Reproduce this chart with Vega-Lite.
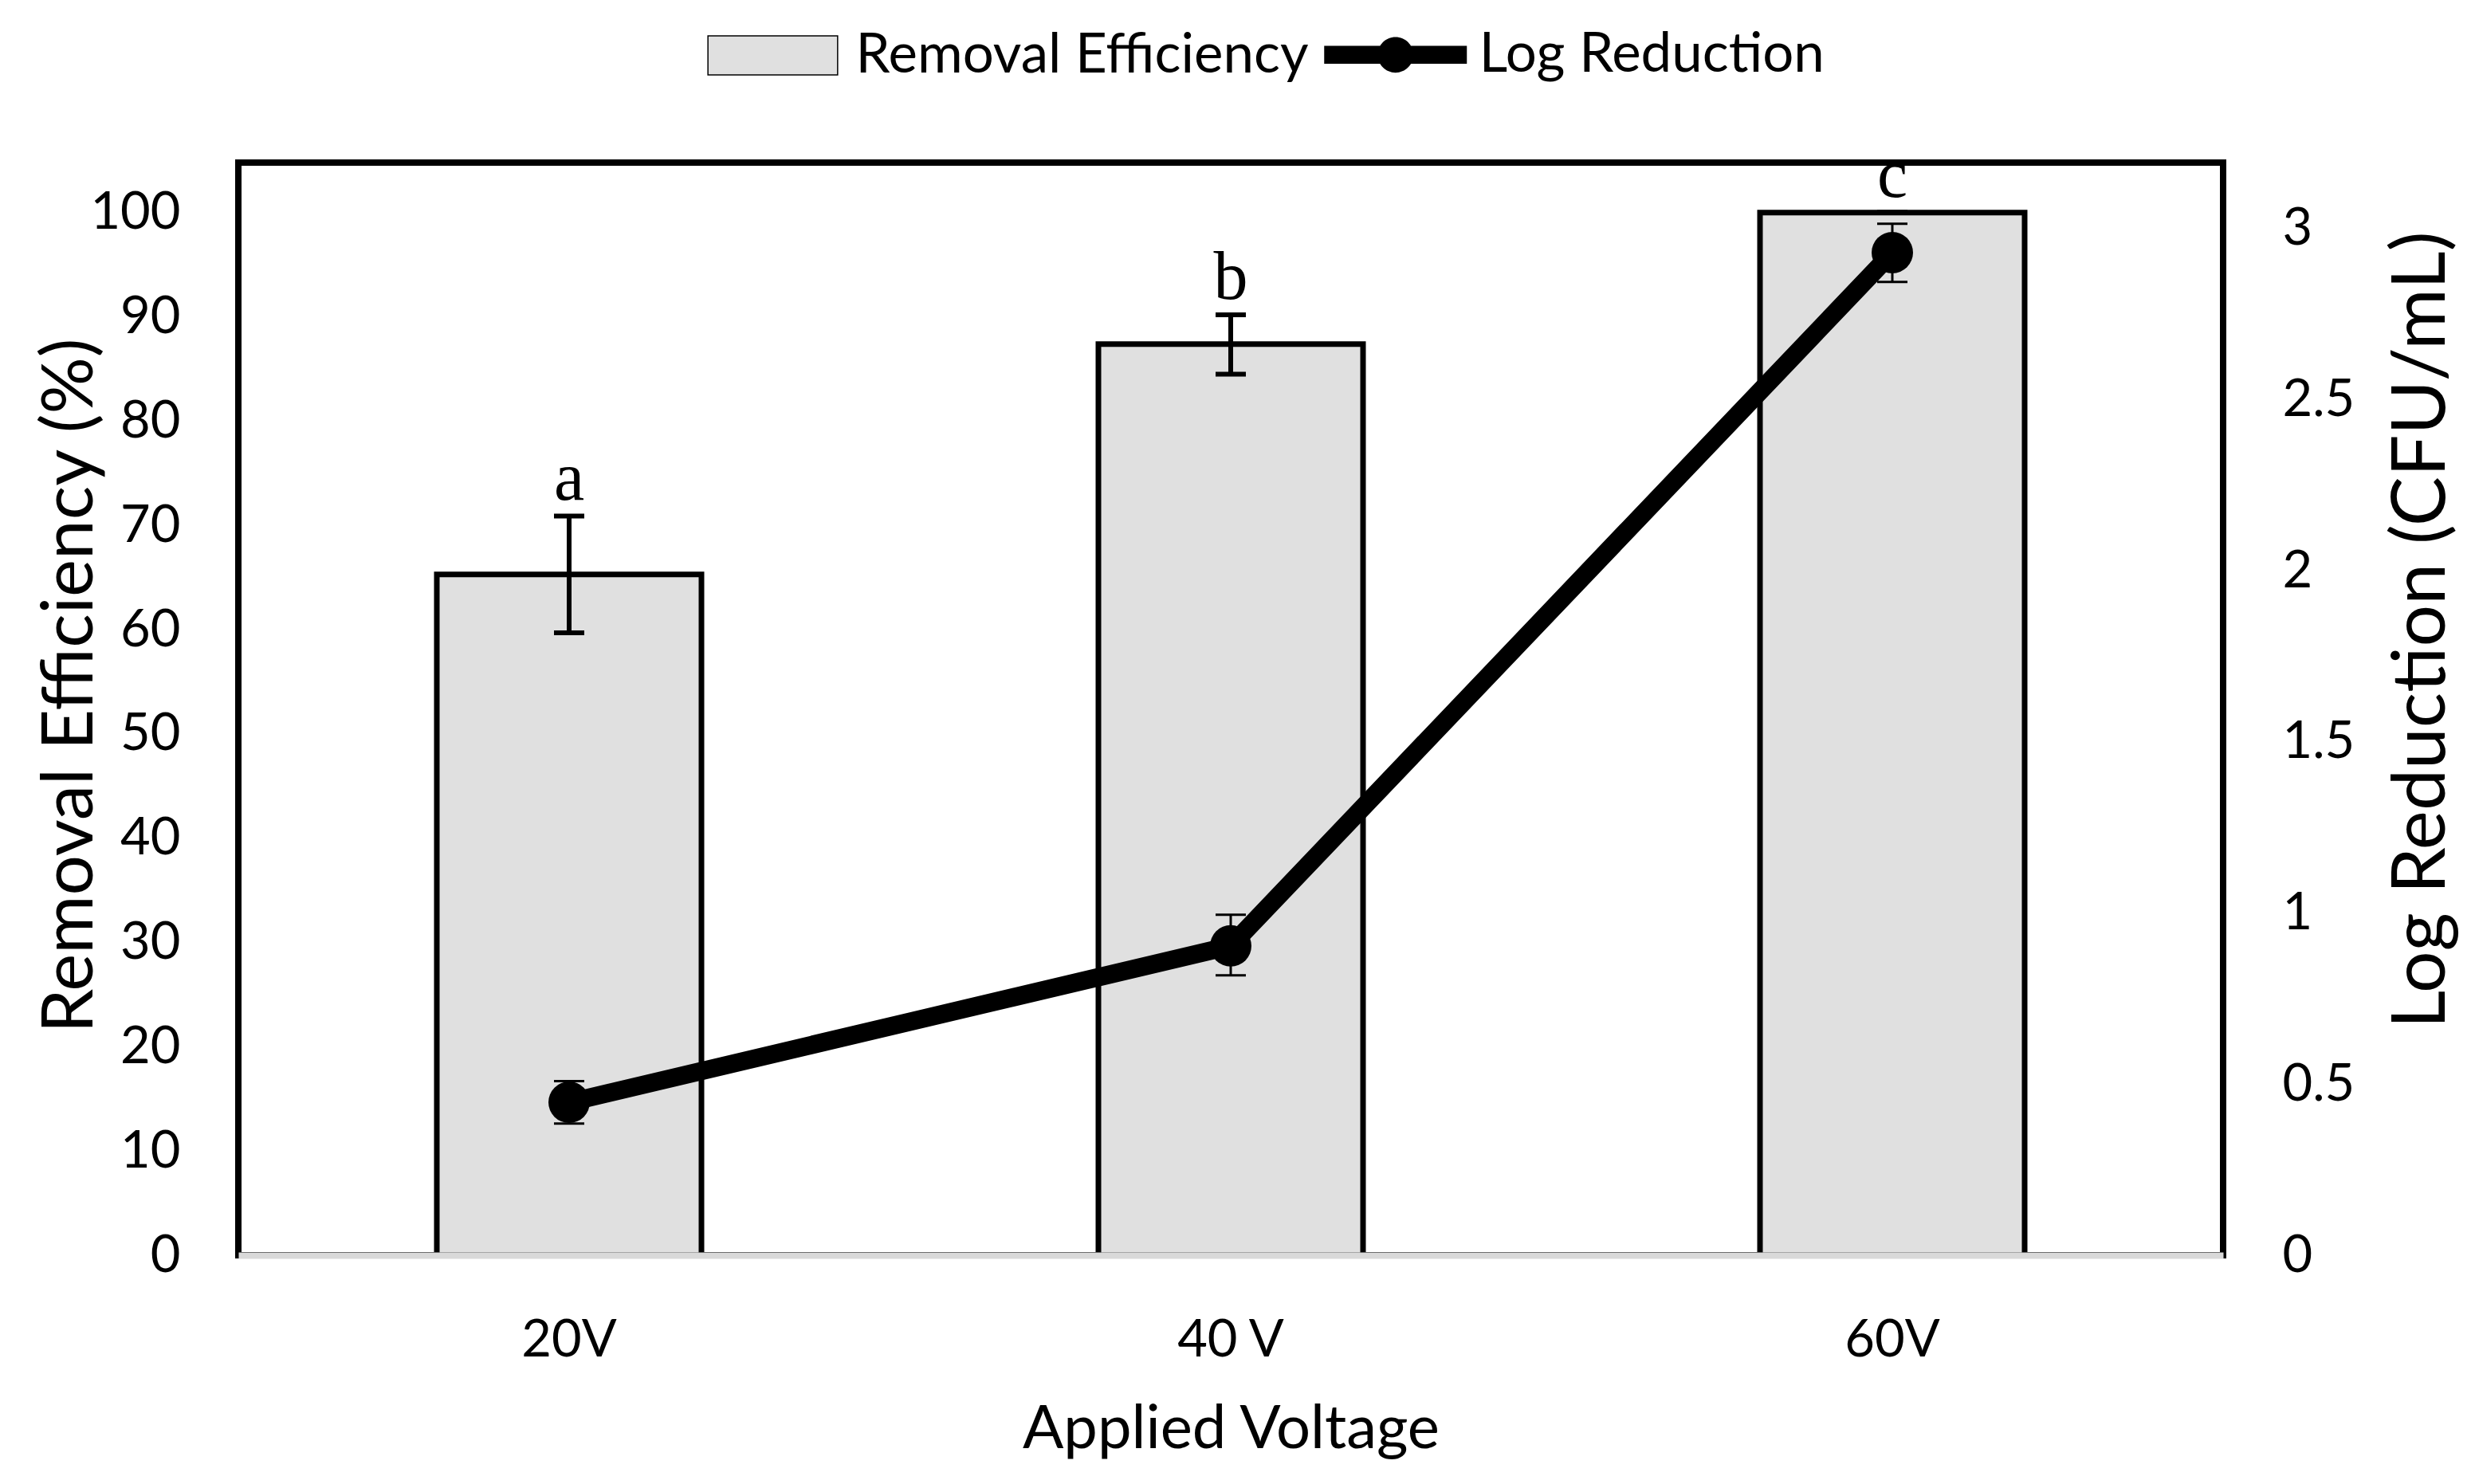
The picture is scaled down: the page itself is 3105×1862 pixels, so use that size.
{
  "$schema": "https://vega.github.io/schema/vega-lite/v6.json",
  "width": 2490,
  "height": 1371,
  "autosize": {"type": "none"},
  "padding": {"left": 299, "top": 204, "right": 316, "bottom": 287},
  "background": "white",
  "data": {
    "values": [
      {"voltage": "20V", "RE": 65.3, "RE_lo": 59.7, "RE_hi": 70.9, "LR": 0.447, "LR_lo": 0.385, "LR_hi": 0.509, "sig": "a"},
      {"voltage": "40 V", "RE": 87.4, "RE_lo": 84.5, "RE_hi": 90.2, "LR": 0.904, "LR_lo": 0.818, "LR_hi": 0.995, "sig": "b"},
      {"voltage": "60V", "RE": 100, "RE_lo": 100, "RE_hi": 100, "LR": 2.93, "LR_lo": 2.844, "LR_hi": 3.014, "sig": "c"}
    ]
  },
  "config": {
    "font": "Lato",
    "view": {"stroke": "black", "strokeWidth": 8},
    "axis": {
      "grid": false,
      "ticks": false,
      "domain": false,
      "labelFont": "Lato",
      "labelFontSize": 65,
      "labelColor": "black",
      "titleFont": "Lato",
      "titleFontSize": 82,
      "titleFontWeight": "normal",
      "titleColor": "black"
    },
    "legend": {
      "labelFont": "Lato",
      "labelFontSize": 69,
      "labelColor": "black",
      "labelLimit": 0,
      "padding": 0,
      "orient": "none"
    }
  },
  "encoding": {
    "x": {
      "field": "voltage",
      "type": "nominal",
      "sort": null,
      "title": "Applied Voltage",
      "scale": {"paddingInner": 0.6, "paddingOuter": 0.3},
      "axis": {
        "title": "Applied Voltage",
        "labelAngle": 0,
        "domain": true,
        "domainColor": "#d9d9d9",
        "domainWidth": 8,
        "labelPadding": 106,
        "labelBaseline": "middle",
        "titleY": 241,
        "titleBaseline": "alphabetic",
        "titleFontSize": 76,
        "zindex": 1
      }
    }
  },
  "resolve": {"scale": {"y": "independent"}},
  "layer": [
    {
      "layer": [
        {
          "mark": {"type": "bar", "stroke": "black", "strokeWidth": 7},
          "encoding": {
            "y": {
              "field": "RE",
              "type": "quantitative",
              "title": "Removal Efficiency (%)",
              "scale": {"domain": [0, 104.8], "nice": false},
              "axis": {
                "orient": "left",
                "title": "Removal Efficiency (%)",
                "values": [0, 10, 20, 30, 40, 50, 60, 70, 80, 90, 100],
                "format": "d",
                "labelPadding": 73,
                "titleAngle": 270,
                "titleX": -184,
                "titleY": 656,
                "titleFontSize": 89,
                "titleBaseline": "alphabetic"
              }
            },
            "fill": {
              "datum": "Removal Efficiency",
              "scale": {"range": ["#e0e0e0"]},
              "legend": {
                "title": null,
                "legendX": 620.5,
                "legendY": -184.5,
                "symbolType": "M-1.66,-0.5H1.66V0.5H-1.66Z",
                "symbolSize": 9604,
                "labelOffset": 54,
                "encode": {"symbols": {"update": {"stroke": {"value": "black"}, "strokeWidth": {"value": 6}}}}
              }
            }
          }
        },
        {
          "mark": {"type": "rule", "color": "black", "strokeWidth": 6},
          "encoding": {
            "y": {"field": "RE_lo", "type": "quantitative", "title": "Removal Efficiency (%)"},
            "y2": {"field": "RE_hi"}
          }
        },
        {
          "mark": {"type": "tick", "color": "black", "size": 38, "thickness": 6, "opacity": 1},
          "encoding": {
            "y": {"field": "RE_lo", "type": "quantitative", "title": "Removal Efficiency (%)"}
          }
        },
        {
          "mark": {"type": "tick", "color": "black", "size": 38, "thickness": 6, "opacity": 1},
          "encoding": {
            "y": {"field": "RE_hi", "type": "quantitative", "title": "Removal Efficiency (%)"}
          }
        },
        {
          "mark": {"type": "text", "font": "Liberation Serif", "fontSize": 86, "baseline": "alphabetic", "dy": -20, "color": "black"},
          "encoding": {
            "y": {"field": "RE_hi", "type": "quantitative", "title": "Removal Efficiency (%)"},
            "text": {"field": "sig"}
          }
        }
      ]
    },
    {
      "layer": [
        {
          "mark": {"type": "rule", "color": "black", "strokeWidth": 3},
          "encoding": {
            "y": {
              "field": "LR_lo",
              "type": "quantitative",
              "title": "Log Reduction (CFU/mL)",
              "scale": {"domain": [0, 3.193], "nice": false},
              "axis": {
                "orient": "right",
                "title": "Log Reduction (CFU/mL)",
                "values": [0, 0.5, 1, 1.5, 2, 2.5, 3],
                "format": "~g",
                "labelAlign": "left",
                "labelPadding": 74,
                "titleAngle": 270,
                "titleX": 277,
                "titleY": 586,
                "titleFontSize": 93,
                "titleBaseline": "alphabetic"
              }
            },
            "y2": {"field": "LR_hi"}
          }
        },
        {
          "mark": {"type": "tick", "color": "black", "size": 38, "thickness": 3, "opacity": 1},
          "encoding": {
            "y": {"field": "LR_lo", "type": "quantitative", "title": "Log Reduction (CFU/mL)"}
          }
        },
        {
          "mark": {"type": "tick", "color": "black", "size": 38, "thickness": 3, "opacity": 1},
          "encoding": {
            "y": {"field": "LR_hi", "type": "quantitative", "title": "Log Reduction (CFU/mL)"}
          }
        },
        {
          "mark": {"type": "line", "strokeWidth": 23, "strokeCap": "round", "strokeJoin": "round"},
          "encoding": {
            "y": {"field": "LR", "type": "quantitative", "title": "Log Reduction (CFU/mL)"},
            "stroke": {
              "datum": "Log Reduction",
              "scale": {"range": ["black"]},
              "legend": {
                "title": null,
                "legendX": 1406.75,
                "legendY": -180.25,
                "symbolType": "M-2,-0.25H2V0.25H-2Z M-0.5,0A0.5,0.5 0 1,1 0.5,0A0.5,0.5 0 1,1 -0.5,0Z",
                "symbolSize": 8010,
                "labelOffset": 60,
                "encode": {"symbols": {"update": {"fill": {"value": "black"}, "strokeWidth": {"value": 0}}}}
              }
            }
          }
        },
        {
          "mark": {"type": "circle", "size": 2700, "color": "black", "opacity": 1},
          "encoding": {
            "y": {"field": "LR", "type": "quantitative", "title": "Log Reduction (CFU/mL)"}
          }
        }
      ]
    }
  ]
}
